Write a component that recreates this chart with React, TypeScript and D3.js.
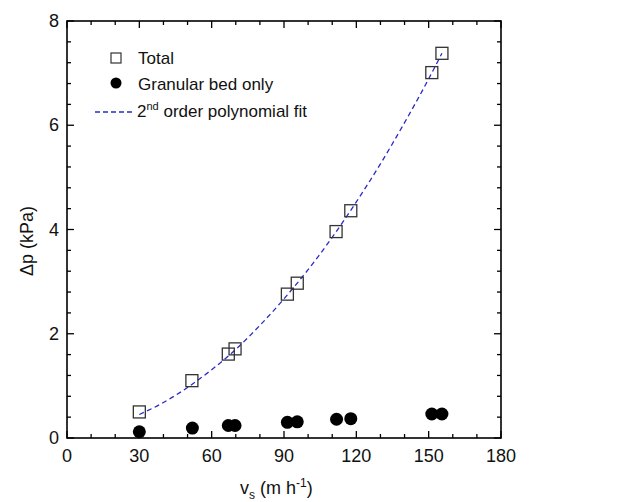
import React from "react";
import * as d3 from "d3";

const totalX = [30, 51.8, 66.9, 69.7, 91.4, 95.5, 111.6, 117.7, 151.3, 155.5];
const totalY = [0.5, 1.1, 1.61, 1.71, 2.76, 2.97, 3.96, 4.36, 7.01, 7.38];
const bedX = [30, 52, 66.9, 69.7, 91.4, 95.5, 111.8, 117.7, 151.3, 155.5];
const bedY = [0.12, 0.19, 0.24, 0.24, 0.3, 0.31, 0.36, 0.37, 0.46, 0.46];
const fitX = [30, 40, 50, 60, 70, 80, 90, 100, 110, 120, 130, 140, 150, 155.5];
const fitY = [0.45, 0.68, 0.97, 1.31, 1.7, 2.16, 2.67, 3.23, 3.85, 4.53, 5.26, 6.05, 6.89, 7.38];
const xTicks = [0, 30, 60, 90, 120, 150, 180];
const yTicks = [0, 2, 4, 6, 8];

const W = 623, H = 502;
const L = 67, R = 501, T = 21, B = 438;

export default function App() {
  const x = d3.scaleLinear().domain([0, 180]).range([L, R]);
  const y = d3.scaleLinear().domain([0, 8]).range([B, T]);
  const xMinor = d3.range(0, 181, 10);
  const yMinor = d3.range(0, 8.01, 0.4).map((v) => +v.toFixed(2));
  const line = d3
    .line<number>()
    .x((_, i) => x(fitX[i]))
    .y((d) => y(d))
    .curve(d3.curveMonotoneX);
  const font = "'Liberation Sans', Arial, sans-serif";
  const blue = "#2a2ac8";
  const isMajorX = (v: number) => v % 30 === 0;
  const isMajorY = (v: number) => Math.abs(v / 2 - Math.round(v / 2)) < 1e-6;
  return (
    <svg
      width={W}
      height={H}
      style={{ position: "absolute", left: 0, top: 0, background: "#fff" }}
      fontFamily={font}
    >
      <rect x={0} y={0} width={W} height={H} fill="#fff" />
      {xMinor.map((v) => {
        const len = isMajorX(v) ? 7 : 4;
        return (
          <g key={"xt" + v} stroke="#000" strokeWidth={1.3}>
            <line x1={x(v)} x2={x(v)} y1={B} y2={B - len} />
            <line x1={x(v)} x2={x(v)} y1={T} y2={T + len} />
          </g>
        );
      })}
      {yMinor.map((v) => {
        const len = isMajorY(v) ? 7 : 4;
        return (
          <g key={"yt" + v} stroke="#000" strokeWidth={1.3}>
            <line x1={L} x2={L + len} y1={y(v)} y2={y(v)} />
            <line x1={R} x2={R - len} y1={y(v)} y2={y(v)} />
          </g>
        );
      })}
      <rect x={L} y={T} width={R - L} height={B - T} fill="none" stroke="#000" strokeWidth={1.6} />
      {xTicks.map((v) => (
        <text key={"xl" + v} x={x(v)} y={B + 24} fontSize={18} textAnchor="middle" fill="#111">
          {v}
        </text>
      ))}
      {yTicks.map((v) => (
        <text key={"yl" + v} x={L - 8} y={y(v) + 6} fontSize={18} textAnchor="end" fill="#111">
          {v}
        </text>
      ))}
      <text x={240} y={494} fontSize={18} fill="#111">
        v<tspan fontSize={12} dy={5}>s</tspan>
        <tspan dy={-5}> (m h</tspan>
        <tspan fontSize={12} dy={-7}>-1</tspan>
        <tspan dy={7}>)</tspan>
      </text>
      <text
        transform={`translate(33, 241) rotate(-90)`}
        fontSize={18}
        textAnchor="middle"
        fill="#111"
      >
        Δp (kPa)
      </text>
      <path d={line(fitY) || ""} fill="none" stroke={blue} strokeWidth={1.3} strokeDasharray="5,3.5" />
      {bedX.map((v, i) => (
        <circle key={"b" + i} cx={x(v)} cy={y(bedY[i])} r={6.5} fill="#000" />
      ))}
      {totalX.map((v, i) => (
        <rect
          key={"t" + i}
          x={x(v) - 6}
          y={y(totalY[i]) - 6}
          width={12}
          height={12}
          fill="none"
          stroke="#333"
          strokeWidth={1.3}
        />
      ))}
      <rect x={111} y={53} width={10} height={10} fill="none" stroke="#333" strokeWidth={1.2} />
      <text x={138} y={64} fontSize={17} fill="#111">Total</text>
      <circle cx={116} cy={83} r={5.5} fill="#000" />
      <text x={138} y={90} fontSize={17} fill="#111">Granular bed only</text>
      <line x1={95} x2={135} y1={112} y2={112} stroke={blue} strokeWidth={1.3} strokeDasharray="5,3" />
      <text x={137} y={117} fontSize={17} fill="#111">
        2<tspan fontSize={11} dy={-7}>nd</tspan>
        <tspan dy={7}> order polynomial fit</tspan>
      </text>
    </svg>
  );
}
